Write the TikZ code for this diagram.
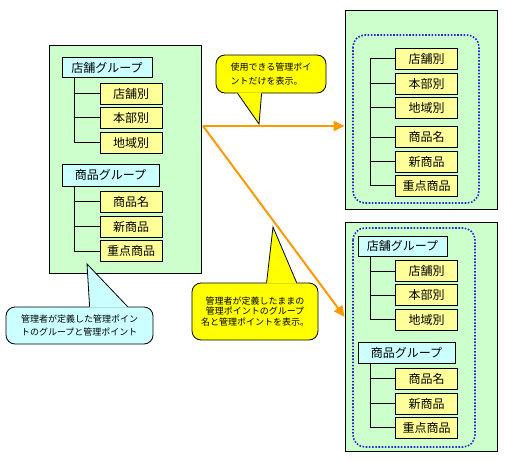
\documentclass[tikz,border=0pt]{standalone}
\usepackage{fontspec}
\setmainfont{Noto Sans CJK JP}
\usetikzlibrary{arrows.meta,calc}
\definecolor{panelgreen}{RGB}{204,255,204}
\definecolor{itemyellow}{RGB}{255,255,153}
\definecolor{groupcyan}{RGB}{204,255,255}
\definecolor{noteyellow}{RGB}{255,255,0}
\definecolor{notecyan}{RGB}{204,255,255}
\definecolor{floworange}{RGB}{255,153,0}
\definecolor{dotblue}{RGB}{40,40,210}
\tikzset{
    panel/.style    = {draw=black, line width=0.8pt, fill=panelgreen},
    grouparea/.style = {draw=dotblue, line width=1.6pt, dash pattern=on 1.6pt off 1.6pt,
            rounded corners=12pt},
    groupbox/.style = {draw=black, line width=0.8pt, fill=groupcyan, inner sep=0pt,
            minimum height=20pt, font=\fontsize{12}{14}\selectfont},
    itembox/.style  = {draw=black, line width=0.8pt, fill=itemyellow, inner sep=0pt,
            minimum width=62pt, minimum height=21pt, font=\fontsize{12}{14}\selectfont},
    tree/.style     = {draw=black, line width=0.9pt},
    flow/.style     = {-{Triangle[length=11pt,width=10pt]}, draw=floworange, line width=2pt},
    bubble/.style   = {draw=black, line width=0.8pt, rounded corners=9pt, inner sep=0pt},
    tailline/.style = {draw=black, line width=0.8pt},
}
\begin{document}
\begin{tikzpicture}[x=1pt, y=-1pt]
\useasboundingbox (0,0) rectangle (505,460);
% Panels
\node[panel, minimum width=152pt, minimum height=228pt] (srcpanel) at (125,159) {};
\node[panel, minimum width=152pt, minimum height=199pt] (flatpanel) at (421,109.5) {};
\node[panel, minimum width=152pt, minimum height=229pt] (grppanel) at (421,336.5) {};
\draw[grouparea] (353,35) rectangle (479,203);
\draw[grouparea] (353,228) rectangle (475,447);

% Left panel: groups as defined
\node[groupbox, minimum width=90pt] (srcshop) at (107,67.5) {店舗グループ};
\foreach \name/\y/\txt in {srcshopA/93.5/店舗別, srcshopB/117.5/本部別, srcshopC/142.5/地域別}
    \node[itembox] (\name) at (131,\y) {\txt};
\node[groupbox, minimum width=97pt, minimum height=22pt] (srcgoods) at (110.5,175) {商品グループ};
\foreach \name/\y/\txt in {srcgoodsA/201.5/商品名, srcgoodsB/226.5/新商品, srcgoodsC/251/重点商品}
    \node[itembox] (\name) at (131,\y) {\txt};
\draw[tree] ($(srcshop.south west)+(13pt,0)$) |- (srcshopC.west);
\draw[tree] ($(srcgoods.south west)+(13pt,0)$) |- (srcgoodsC.west);
\foreach \name in {srcshopA,srcshopB,srcgoodsA,srcgoodsB}
    \draw[tree] (\name.west) -- ++(-25pt,0);

% Right top: points only
\foreach \name/\y/\txt in {flatA/58.5/店舗別, flatB/83.5/本部別, flatC/107.5/地域別,
        flatD/137/商品名, flatE/161.5/新商品, flatF/185.5/重点商品}
    \node[itembox] (\name) at (426.5,\y) {\txt};
\draw[tree] (flatA.west) -- ++(-25pt,0) |- (flatF.west);
\foreach \name in {flatB,flatC,flatD,flatE}
    \draw[tree] (\name.west) -- ++(-25pt,0);

% Right bottom: groups kept
\node[groupbox, minimum width=89pt] (grpshop) at (402.5,246) {店舗グループ};
\foreach \name/\y/\txt in {grpshopA/271/店舗別, grpshopB/295/本部別, grpshopC/319.5/地域別}
    \node[itembox] (\name) at (426.5,\y) {\txt};
\node[groupbox, minimum width=97pt, minimum height=21pt] (grpgoods) at (406.5,352.5) {商品グループ};
\foreach \name/\y/\txt in {grpgoodsA/378.5/商品名, grpgoodsB/403.5/新商品, grpgoodsC/427.5/重点商品}
    \node[itembox] (\name) at (426.5,\y) {\txt};
\draw[tree] ($(grpshop.south west)+(13pt,0)$) |- (grpshopC.west);
\draw[tree] ($(grpgoods.south west)+(13pt,0)$) |- (grpgoodsC.west);
\foreach \name in {grpshopA,grpshopB,grpgoodsA,grpgoodsB}
    \draw[tree] (\name.west) -- ++(-25pt,0);

% Arrows
\coordinate (fork) at (203,126);
\coordinate (grpin) at ($(grppanel.north west)!0.415!(grppanel.south west)$);
\draw[flow] (fork) -- (fork -| flatpanel.west);
\draw[flow] (fork) -- (grpin);

% Callouts
\node[bubble, fill=noteyellow, minimum width=110pt, minimum height=38pt, align=left,
      font=\fontsize{9}{14}\selectfont] (shownote) at (271,74) {使用できる管理ポイ\\ントだけを表示。};
\coordinate (shownotetip) at (259,124);
\fill[noteyellow] ($(shownote.south west)+(22pt,1pt)$) -- (shownotetip) -- ($(shownote.south west)+(46pt,1pt)$) -- cycle;
\draw[tailline] ($(shownote.south west)+(22pt,0pt)$) -- (shownotetip) -- ($(shownote.south west)+(46pt,0pt)$);

\node[bubble, fill=notecyan, minimum width=147pt, minimum height=37pt, align=left,
      font=\fontsize{9}{13}\selectfont] (srcnote) at (79.5,325.5) {管理者が定義した管理ポイン\\トのグループと管理ポイント};
\coordinate (srcnotetip) at (87,264);
\fill[notecyan] ($(srcnote.north west)+(84pt,-1pt)$) -- (srcnotetip) -- ($(srcnote.north west)+(122pt,-1pt)$) -- cycle;
\draw[tailline] ($(srcnote.north west)+(84pt,0pt)$) -- (srcnotetip) -- ($(srcnote.north west)+(122pt,0pt)$);

\node[bubble, fill=noteyellow, minimum width=126pt, minimum height=57pt, align=center,
      font=\fontsize{9}{10.5}\selectfont] (grpnote) at (255,311.5) {管理者が定義したままの\\管理ポイントのグループ\\名と管理ポイントを表示。};
\coordinate (grpnotetip) at (273,227);
\fill[noteyellow] ($(grpnote.north west)+(75pt,-1pt)$) -- (grpnotetip) -- ($(grpnote.north west)+(105pt,-1pt)$) -- cycle;
\draw[tailline] ($(grpnote.north west)+(75pt,0pt)$) -- (grpnotetip) -- ($(grpnote.north west)+(105pt,0pt)$);
\end{tikzpicture}
\end{document}
